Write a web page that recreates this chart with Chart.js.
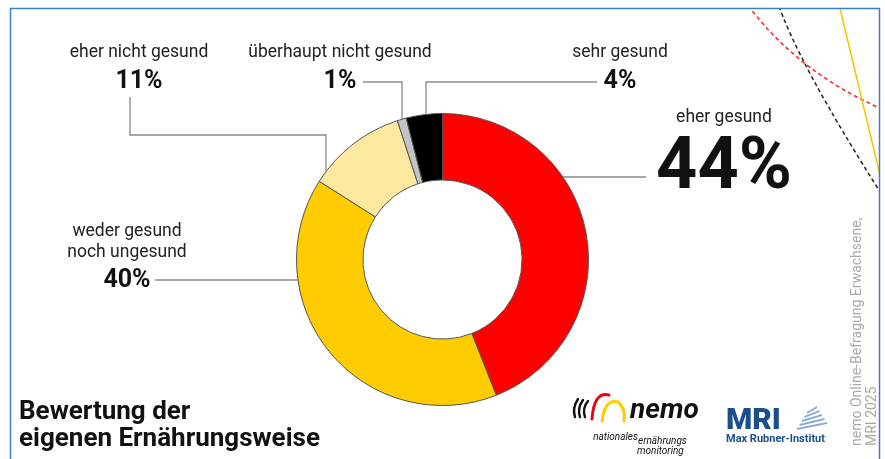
<!DOCTYPE html>
<html lang="de">
<head>
<meta charset="utf-8">
<title>Bewertung der eigenen Ernährungsweise</title>
<script src="https://cdn.jsdelivr.net/npm/chart.js@4.4.1/dist/chart.umd.min.js"></script>
<style>
  html, body { margin: 0; padding: 0; background: #fff; }
  canvas { display: block; }
</style>
</head>
<body>
<canvas id="chart" width="885" height="459"></canvas>
<script>
// Data
const categories = ['eher gesund', 'weder gesund noch ungesund', 'eher nicht gesund', 'überhaupt nicht gesund', 'sehr gesund'];
const labelLines = [['eher gesund'], ['weder gesund', 'noch ungesund'], ['eher nicht gesund'], ['überhaupt nicht gesund'], ['sehr gesund']];
const shares = [44, 40, 11, 1, 4];
const sliceColors = ['#ff0000', '#ffcc00', '#fce99f', '#c4c4c4', '#000000'];

const FONT = 'Roboto, "Noto Sans", sans-serif';

// Callout layout per slice (text position, leader path; the last leg ends on the ring)
const callouts = [
    { cx: 724, nameY: 118, pctY: 170, pctSize: 72, path: [[646, 177]], end: 'h' },
    { cx: 127, nameY: 232, pctY: 281, pctSize: 25, path: [[155, 280]], end: 'h' },
    { cx: 139, nameY: 53, pctY: 82, pctSize: 25, path: [[130, 97], [130, 135], [326, 135]], end: 'v' },
    { cx: 340, nameY: 53, pctY: 82, pctSize: 25, path: [[363, 82], [402, 82]], end: 'v' },
    { cx: 620, nameY: 53, pctY: 82, pctSize: 25, path: [[597, 82], [426, 82]], end: 'v' }
];

// frame, corner decoration and footer
const backdrop = {
    id: 'backdrop',
    beforeDraw(chart) {
        const ctx = chart.ctx;
        ctx.save();
        ctx.fillStyle = '#fff';
        ctx.fillRect(0, 0, chart.width, chart.height);

        // decorative lines, clipped to the frame
        ctx.save();
        ctx.beginPath();
        ctx.rect(10, 8, 870, 460);
        ctx.clip();
        ctx.lineWidth = 1.5;
        ctx.setLineDash([4, 3]);
        ctx.strokeStyle = '#ff2020';
        ctx.beginPath();
        ctx.moveTo(744, 0);
        ctx.quadraticCurveTo(796, 72, 884, 110);
        ctx.stroke();
        ctx.strokeStyle = '#222';
        ctx.beginPath();
        ctx.moveTo(777, 0);
        ctx.quadraticCurveTo(796, 60, 884, 198);
        ctx.stroke();
        ctx.setLineDash([]);
        ctx.strokeStyle = '#f5c400';
        ctx.beginPath();
        ctx.moveTo(838, 0);
        ctx.lineTo(880, 175);
        ctx.stroke();
        ctx.restore();

        // frame
        ctx.strokeStyle = '#3a7fc4';
        ctx.lineWidth = 1.5;
        ctx.beginPath();
        ctx.moveTo(10.5, 470);
        ctx.lineTo(10.5, 8.5);
        ctx.lineTo(879.5, 8.5);
        ctx.lineTo(879.5, 470);
        ctx.stroke();

        // title
        ctx.fillStyle = '#111';
        ctx.font = 'bold 26px ' + FONT;
        ctx.textAlign = 'left';
        ctx.textBaseline = 'alphabetic';
        ctx.fillText('Bewertung der', 19, 419);
        ctx.fillText('eigenen Ernährungsweise', 19, 446);

        // source, rotated
        ctx.save();
        ctx.fillStyle = '#a8a8a8';
        ctx.font = '14px ' + FONT;
        ctx.textBaseline = 'middle';
        ctx.translate(857, 446);
        ctx.rotate(-Math.PI / 2);
        ctx.fillText('nemo Online-Befragung Erwachsene,', 0, 0);
        ctx.fillText('MRI 2025', 0, 15);
        ctx.restore();

        // nemo logo (approximation)
        ctx.lineCap = 'round';
        ctx.lineWidth = 2.4;
        ctx.strokeStyle = '#111';
        [575, 580, 585].forEach((x, i) => {
            ctx.beginPath();
            ctx.moveTo(x + 3, 399 + i);
            ctx.quadraticCurveTo(x - 3, 408, x, 417);
            ctx.stroke();
        });
        ctx.lineWidth = 3;
        ctx.strokeStyle = '#e30613';
        ctx.beginPath();
        ctx.moveTo(592, 419);
        ctx.quadraticCurveTo(594, 391, 609, 395);
        ctx.stroke();
        ctx.strokeStyle = '#ffcc00';
        ctx.beginPath();
        ctx.moveTo(602, 421);
        ctx.quadraticCurveTo(605, 398, 618, 402);
        ctx.quadraticCurveTo(626, 408, 624, 421);
        ctx.stroke();
        ctx.fillStyle = '#111';
        ctx.font = 'italic bold 28px ' + FONT;
        ctx.fillText('nemo', 630, 418);
        ctx.font = 'italic 10px ' + FONT;
        ctx.textBaseline = 'alphabetic';
        ctx.textAlign = 'right';
        ctx.fillText('nationales', 638, 440);
        ctx.textAlign = 'left';
        ctx.fillText('ernährungs', 638, 444);
        ctx.fillText('monitoring', 637, 454);

        // MRI logo (approximation)
        ctx.fillStyle = '#1b4f8c';
        ctx.font = '900 30px ' + FONT;
        ctx.fillText('MRI', 726, 429);
        ctx.font = 'bold 11px ' + FONT;
        ctx.fillText('Max Rubner-Institut', 726, 442);
        ctx.fillStyle = '#8aaad6';
        for (let i = 0; i < 5; i++) {
            const w = 10 + i * 5;
            ctx.beginPath();
            ctx.moveTo(812 - w / 2, 412 + i * 4);
            ctx.lineTo(812 + w / 2, 406 + i * 4);
            ctx.lineTo(812 + w / 2, 408 + i * 4);
            ctx.lineTo(812 - w / 2, 414 + i * 4);
            ctx.fill();
        }
        ctx.restore();
    }
};

// leader lines and labels anchored on the arcs
const callouts_plugin = {
    id: 'callouts',
    afterDatasetsDraw(chart) {
        const ctx = chart.ctx;
        const arcs = chart.getDatasetMeta(0).data;
        ctx.save();
        arcs.forEach((arc, i) => {
            const c = callouts[i];
            const { x, y, outerRadius, startAngle, endAngle } = arc.getProps(['x', 'y', 'outerRadius', 'startAngle', 'endAngle'], true);
            const mid = (startAngle + endAngle) / 2;
            const pts = c.path.slice();
            const last = pts[pts.length - 1];
            if (c.end === 'h') {
                const dx = Math.sqrt(outerRadius * outerRadius - (last[1] - y) ** 2);
                pts.push([x + Math.sign(Math.cos(mid)) * dx, last[1]]);
            } else {
                const dy = Math.sqrt(outerRadius * outerRadius - (last[0] - x) ** 2);
                pts.push([last[0], y + Math.sign(Math.sin(mid)) * dy]);
            }
            ctx.strokeStyle = '#8a8a8a';
            ctx.lineWidth = 1.3;
            ctx.beginPath();
            pts.forEach((p, k) => k ? ctx.lineTo(p[0], p[1]) : ctx.moveTo(p[0], p[1]));
            ctx.stroke();

            ctx.fillStyle = '#222';
            ctx.textAlign = 'center';
            ctx.textBaseline = 'middle';
            ctx.font = '17.5px ' + FONT;
            labelLines[i].forEach((line, k) => ctx.fillText(line, c.cx, c.nameY + k * 21));
            ctx.fillStyle = '#111';
            ctx.font = 'bold ' + c.pctSize + 'px ' + FONT;
            ctx.fillText(shares[i] + '%', c.cx, c.pctY);
        });
        ctx.restore();
    }
};

new Chart(document.getElementById('chart'), {
    type: 'doughnut',
    data: {
        labels: categories,
        datasets: [{
            data: shares,
            backgroundColor: sliceColors,
            borderColor: '#555',
            borderWidth: 1
        }]
    },
    options: {
        responsive: false,
        animation: false,
        devicePixelRatio: 1,
        radius: 146,
        cutout: '54.5%',
        layout: { padding: { top: 60 } },
        plugins: {
            legend: { display: false },
            tooltip: { enabled: false }
        }
    },
    plugins: [backdrop, callouts_plugin]
});
</script>
</body>
</html>
